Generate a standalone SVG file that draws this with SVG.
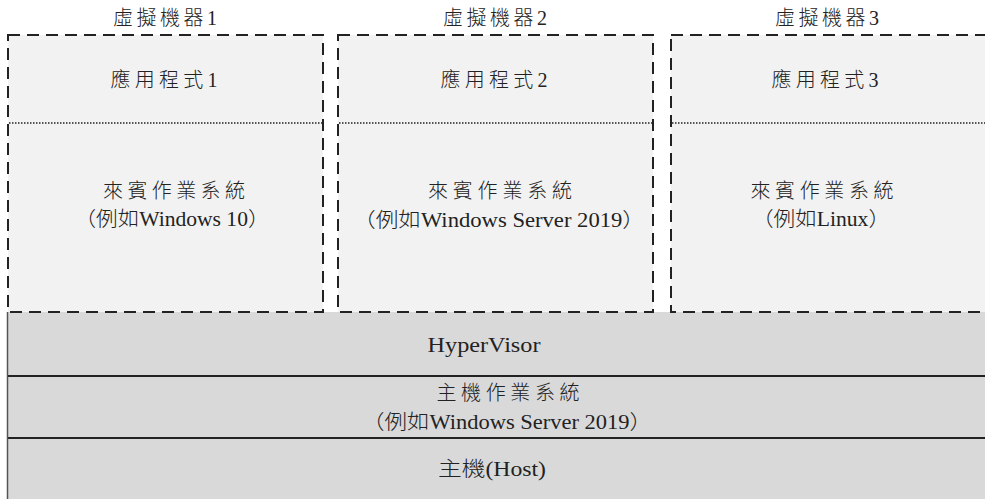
<svg xmlns="http://www.w3.org/2000/svg" width="985" height="499" viewBox="0 0 985 499">
<style>
.t{font-family:"Liberation Serif","Noto Sans CJK TC",serif;font-size:20px;font-weight:300;fill:#222;text-anchor:middle;dominant-baseline:central}
.vm{fill:#f2f2f2;stroke:#222;stroke-width:2;stroke-dasharray:12 7}
.dot{stroke:#222;stroke-width:1.5;stroke-dasharray:1.5 1.5;fill:none}
.layer{fill:#d9d9d9;stroke:none}
.sep{stroke:#222;stroke-width:2;fill:none}
</style>
<rect width="985" height="499" fill="#fff"/>
<g id="hypervisor">
<rect class="layer" x="7" y="312" width="990" height="64"/>
<text class="t" x="484" y="345" textLength="113" lengthAdjust="spacingAndGlyphs">HyperVisor</text>
</g>
<g id="host-os">
<rect class="layer" x="7" y="376" width="990" height="62"/>
<text class="t" x="508" y="393" textLength="143" lengthAdjust="spacing">主機作業系統</text>
<text class="t" x="507" y="422" textLength="290" lengthAdjust="spacingAndGlyphs">（例如Windows Server 2019）</text>
</g>
<g id="host">
<rect class="layer" x="7" y="438" width="990" height="70"/>
<text class="t" x="492" y="469" textLength="108" lengthAdjust="spacingAndGlyphs">主機(Host)</text>
</g>
<g id="host-lines">
<line class="sep" x1="7" y1="376" x2="985" y2="376"/>
<line class="sep" x1="7" y1="438" x2="985" y2="438"/>
<line x1="7.5" y1="312" x2="7.5" y2="499" stroke="#555" stroke-width="1.5"/>
</g>
<g id="vm1">
<text class="t" x="165" y="18" textLength="104" lengthAdjust="spacing">虛擬機器1</text>
<rect class="vm" x="8" y="35" width="315" height="277"/>
<line class="dot" x1="9" y1="123" x2="322" y2="123"/>
<text class="t" x="164" y="80" textLength="107" lengthAdjust="spacing">應用程式1</text>
<text class="t" x="174" y="191" textLength="142" lengthAdjust="spacing">來賓作業系統</text>
<text class="t" x="172" y="219" textLength="195" lengthAdjust="spacingAndGlyphs">（例如Windows 10）</text>
</g>
<g id="vm2">
<text class="t" x="495" y="18" textLength="104" lengthAdjust="spacing">虛擬機器2</text>
<rect class="vm" x="338" y="35" width="315" height="277"/>
<line class="dot" x1="339" y1="123" x2="652" y2="123"/>
<text class="t" x="494" y="80" textLength="107" lengthAdjust="spacing">應用程式2</text>
<text class="t" x="500" y="191" textLength="144" lengthAdjust="spacing">來賓作業系統</text>
<text class="t" x="499" y="220" textLength="292" lengthAdjust="spacingAndGlyphs">（例如Windows Server 2019）</text>
</g>
<g id="vm3">
<text class="t" x="827" y="18" textLength="104" lengthAdjust="spacing">虛擬機器3</text>
<rect class="vm" x="671" y="35" width="320" height="277"/>
<line class="dot" x1="672" y1="123" x2="985" y2="123"/>
<text class="t" x="825" y="80" textLength="107" lengthAdjust="spacing">應用程式3</text>
<text class="t" x="822" y="191" textLength="143" lengthAdjust="spacing">來賓作業系統</text>
<text class="t" x="821" y="219" textLength="138" lengthAdjust="spacingAndGlyphs">（例如Linux）</text>
</g>
</svg>
